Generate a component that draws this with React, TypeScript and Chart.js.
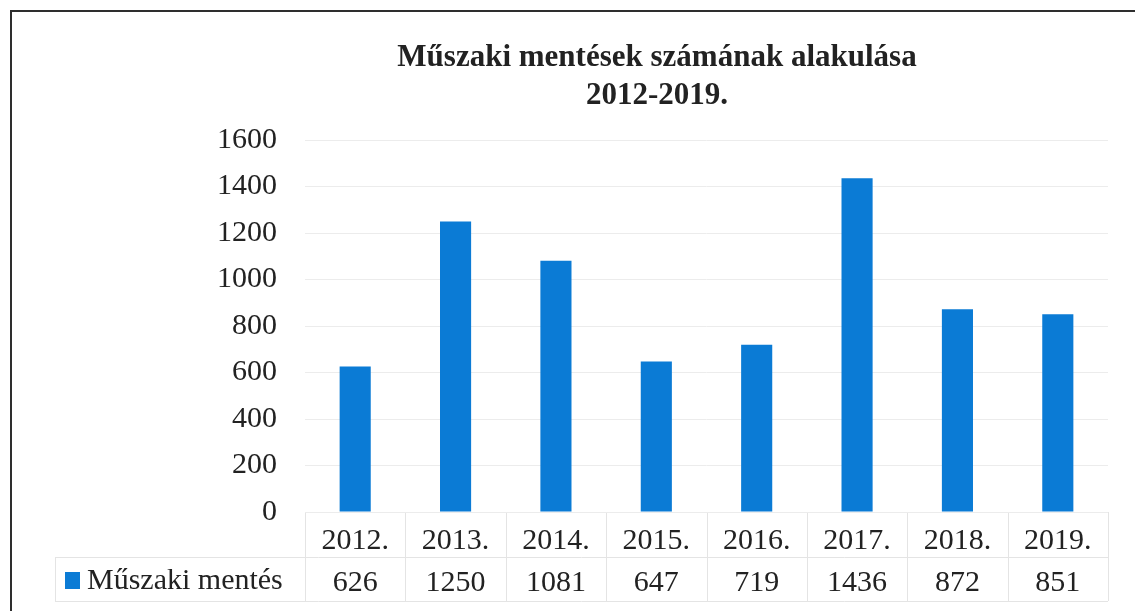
import React, { useEffect, useRef } from "react";
import { Chart, registerables } from "chart.js";

Chart.register(...registerables);

const titleLines = ["Műszaki mentések számának alakulása", "2012-2019."];
const categories = ["2012.", "2013.", "2014.", "2015.", "2016.", "2017.", "2018.", "2019."];
const seriesName = "Műszaki mentés";
const values = [626, 1250, 1081, 647, 719, 1436, 872, 851];
const yMin = 0;
const yMax = 1600;
const yStep = 200;

const BAR_COLOR = "#0b7bd5";
const TEXT_COLOR = "#222222";
const FONT = "'Liberation Serif', 'Times New Roman', serif";

const decorPlugin = {
  id: "decor",
  beforeDraw(chart: any) {
    const ctx = chart.ctx;
    const area = chart.chartArea;
    const xs = chart.scales.x;
    ctx.save();
    ctx.fillStyle = "#ffffff";
    ctx.fillRect(0, 0, chart.width, chart.height);
    // frame
    ctx.strokeStyle = "#2e2e2e";
    ctx.lineWidth = 2;
    ctx.beginPath();
    ctx.moveTo(11, chart.height);
    ctx.lineTo(11, 11);
    ctx.lineTo(chart.width, 11);
    ctx.stroke();
    // data table lines
    const rowMid = area.bottom + 45;
    const rowBottom = area.bottom + 89;
    const legendLeft = 55;
    ctx.strokeStyle = "#e4e4e4";
    ctx.lineWidth = 1;
    ctx.beginPath();
    ctx.moveTo(area.left, area.bottom + 0.5);
    ctx.lineTo(area.right, area.bottom + 0.5);
    ctx.moveTo(legendLeft, rowMid + 0.5);
    ctx.lineTo(area.right, rowMid + 0.5);
    ctx.moveTo(legendLeft, rowBottom + 0.5);
    ctx.lineTo(area.right, rowBottom + 0.5);
    ctx.moveTo(legendLeft + 0.5, rowMid);
    ctx.lineTo(legendLeft + 0.5, rowBottom);
    const n = categories.length;
    const step = (area.right - area.left) / n;
    for (let i = 0; i <= n; i++) {
      const x = Math.round(xs.getPixelForValue(0) - step / 2 + i * step) + 0.5;
      ctx.moveTo(x, area.bottom);
      ctx.lineTo(x, rowBottom);
    }
    ctx.stroke();
    ctx.restore();
  },
  afterDraw(chart: any) {
    const ctx = chart.ctx;
    const area = chart.chartArea;
    ctx.save();
    // title
    ctx.fillStyle = TEXT_COLOR;
    ctx.font = `bold 31px ${FONT}`;
    ctx.textAlign = "center";
    ctx.textBaseline = "alphabetic";
    ctx.fillText(titleLines[0], 657, 66);
    ctx.fillText(titleLines[1], 657, 104);
    // legend key in data table
    const rowCenter = area.bottom + 68;
    ctx.fillStyle = BAR_COLOR;
    ctx.fillRect(65, rowCenter - 8, 15, 17);
    ctx.fillStyle = TEXT_COLOR;
    ctx.font = `30px ${FONT}`;
    ctx.textAlign = "left";
    ctx.textBaseline = "middle";
    ctx.fillText(seriesName, 87, rowCenter + 1);
    ctx.restore();
  },
};

export default function App() {
  const ref = useRef<HTMLCanvasElement | null>(null);
  useEffect(() => {
    if (!ref.current) return;
    const chart = new Chart(ref.current, {
      type: "bar",
      data: {
        labels: categories,
        datasets: [
          {
            label: seriesName,
            data: values,
            backgroundColor: BAR_COLOR,
            borderWidth: 0,
            barPercentage: 0.31,
            categoryPercentage: 1,
          },
        ],
      },
      options: {
        responsive: false,
        animation: false,
        layout: { padding: { left: 0, right: 27, top: 140, bottom: 0 } },
        plugins: {
          legend: { display: false },
          title: { display: false },
          tooltip: { enabled: false },
        },
        scales: {
          x: {
            grid: { display: false },
            border: { display: false },
            ticks: {
              color: TEXT_COLOR,
              font: { family: FONT, size: 30, lineHeight: 1.4 },
              padding: 0,
              maxRotation: 0,
              autoSkip: false,
              callback: (_v: any, i: number) => [categories[i], String(values[i])],
            },
            afterFit: (scale: any) => {
              scale.height = 99;
            },
          },
          y: {
            min: yMin,
            max: yMax,
            grid: { color: "#ececec", drawTicks: false },
            border: { display: false },
            ticks: {
              stepSize: yStep,
              color: TEXT_COLOR,
              font: { family: FONT, size: 30 },
              padding: 28,
              callback: (v: any) => String(v),
            },
            afterFit: (scale: any) => {
              scale.width = 305;
            },
          },
        },
      },
      plugins: [decorPlugin],
    });
    return () => chart.destroy();
  }, []);
  return (
    <div style={{ position: "fixed", left: 0, top: 0, width: 1135, height: 611, background: "#fff" }}>
      <canvas ref={ref} width={1135} height={611} />
    </div>
  );
}
